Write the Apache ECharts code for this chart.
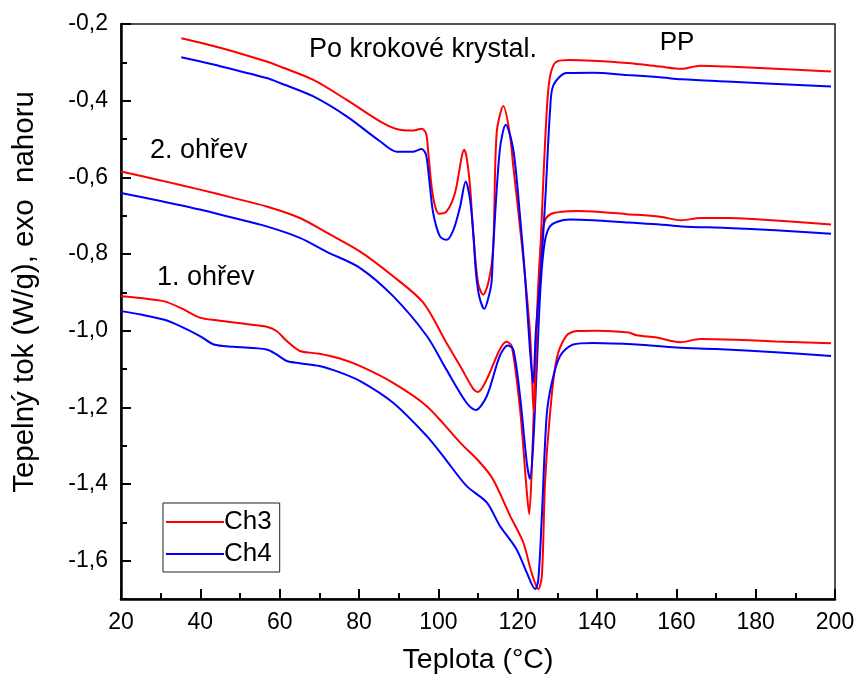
<!DOCTYPE html>
<html>
<head>
<meta charset="utf-8">
<script src="https://cdn.jsdelivr.net/npm/echarts@6/dist/echarts.min.js"></script>
<style>
  html, body { margin: 0; padding: 0; background: #fff; }
  #chart { width: 860px; height: 680px; }
</style>
</head>
<body>
<div id="chart"></div>
<script>
// DSC heating curves of PP, two samples (Ch3, Ch4), temperature in °C vs heat flow in W/g.

// Axis ticks
const xTicks = [20, 40, 60, 80, 100, 120, 140, 160, 180, 200];
const yMajorTicks = [-1.6, -1.4, -1.2, -1.0, -0.8, -0.6, -0.4, -0.2];
const yMinorTicks = [-1.7, -1.5, -1.3, -1.1, -0.9, -0.7, -0.5, -0.3];

// 1st heating
const ch3Heat1 = [
  [20, -0.910], [25, -0.915], [30.7, -0.923], [34.9, -0.940], [39.9, -0.966],
  [44.1, -0.973], [52.5, -0.984], [56.7, -0.990], [59.2, -1.001], [61.8, -1.027],
  [65.1, -1.053], [70, -1.060], [75, -1.072], [80.2, -1.092], [88.6, -1.136],
  [97.1, -1.197], [105.5, -1.292], [110.5, -1.344], [113.8, -1.388], [118.1, -1.483],
  [121.4, -1.552], [123.5, -1.631], [125.2, -1.674], [126.1, -1.640], [126.9, -1.396],
  [128.1, -1.223], [129.8, -1.075], [132.3, -1.013], [134.9, -1.001], [140, -1.000],
  [148, -1.005], [150, -1.012], [155, -1.018], [161, -1.030], [166, -1.022],
  [175, -1.024], [185, -1.028], [199, -1.033]
];
const ch4Heat1 = [
  [20, -0.949], [25, -0.958], [30.7, -0.971], [34.9, -0.988], [39.9, -1.014],
  [43.4, -1.036], [48.4, -1.042], [56.7, -1.049], [59.2, -1.062], [61.8, -1.079],
  [65.1, -1.085], [70, -1.092], [75, -1.108], [80.2, -1.131], [88.6, -1.188],
  [97.1, -1.275], [101.2, -1.327], [107.1, -1.405], [112.2, -1.448], [115.5, -1.509],
  [119.7, -1.570], [122.3, -1.631], [124.4, -1.674], [125.2, -1.650], [126.1, -1.483],
  [127.3, -1.223], [128.6, -1.136], [130.7, -1.066], [134.0, -1.036], [139.0, -1.032],
  [150, -1.036], [160, -1.044], [170, -1.048], [185, -1.056], [199, -1.066]
];

// 2nd heating
const ch3Heat2 = [
  [20, -0.585], [30, -0.608], [39.9, -0.632], [48, -0.653], [56.7, -0.676],
  [65.1, -0.706], [72, -0.745], [80.2, -0.793], [88.6, -0.858], [96.2, -0.927],
  [102.0, -1.031], [105.5, -1.092], [108.8, -1.152], [110.0, -1.160], [112.2, -1.127],
  [115.5, -1.049], [117.2, -1.029], [118.5, -1.040], [120.6, -1.205], [122.3, -1.420],
  [122.9, -1.479], [123.6, -1.350], [124.4, -1.100], [125.2, -0.880], [126.0, -0.760],
  [127, -0.710], [128.5, -0.695], [131, -0.690], [135, -0.688], [139, -0.689],
  [147.6, -0.696], [155.9, -0.703], [161.3, -0.712], [166, -0.706], [172.7, -0.706],
  [181.1, -0.710], [199, -0.723]
];
const ch4Heat2 = [
  [20, -0.641], [30, -0.662], [39.9, -0.684], [48, -0.705], [56.7, -0.728],
  [65.1, -0.758], [72, -0.795], [80.2, -0.836], [88.6, -0.910], [97.1, -1.014],
  [102.0, -1.101], [107.1, -1.188], [109.4, -1.207], [112.2, -1.171], [115.5, -1.066],
  [117.5, -1.039], [118.9, -1.049], [120.6, -1.171], [122.3, -1.344], [123.1, -1.386],
  [123.9, -1.300], [124.8, -1.100], [125.8, -0.880], [126.8, -0.770], [128, -0.730],
  [130, -0.716], [133.2, -0.710], [139, -0.712], [148, -0.718], [155.9, -0.723],
  [161.3, -0.728], [172.7, -0.732], [185, -0.738], [199, -0.747]
];

// Heating after stepwise crystallization
const ch3Step = [
  [35.2, -0.237], [45, -0.262], [56.7, -0.298], [60.1, -0.311], [68.5, -0.346],
  [76.9, -0.398], [85.3, -0.454], [89.5, -0.474], [93.7, -0.478], [95.8, -0.473],
  [96.9, -0.485], [97.4, -0.528], [98.3, -0.624], [99.2, -0.676], [100.2, -0.695],
  [102.1, -0.689], [104.2, -0.641], [105.9, -0.546], [106.5, -0.528], [107.1, -0.546],
  [108.0, -0.624], [108.8, -0.745], [110.0, -0.875], [111.3, -0.906], [112.6, -0.875],
  [113.8, -0.789], [114.7, -0.485], [116.4, -0.414], [118.0, -0.485], [118.9, -0.572],
  [121.2, -0.789], [123.1, -1.005], [124.1, -1.213], [124.8, -1.005], [125.5, -0.850],
  [126.5, -0.600], [127.5, -0.400], [128.3, -0.330], [129.8, -0.298], [133.2, -0.294],
  [139.0, -0.296], [147.6, -0.302], [155.9, -0.311], [161.3, -0.317], [166, -0.309],
  [172.7, -0.311], [181.1, -0.315], [199, -0.324]
];
const ch4Step = [
  [35.2, -0.287], [45, -0.310], [56.7, -0.341], [60.1, -0.354], [68.5, -0.389],
  [76.9, -0.441], [85.3, -0.506], [89.5, -0.533], [93.7, -0.533], [95.8, -0.526],
  [96.9, -0.541], [97.7, -0.606], [98.7, -0.693], [100.4, -0.754], [102.1, -0.763],
  [103.8, -0.737], [105.5, -0.676], [106.9, -0.611], [108.0, -0.658], [108.8, -0.745],
  [109.5, -0.850], [110.3, -0.910], [111.6, -0.943], [112.6, -0.915], [113.4, -0.875],
  [113.8, -0.789], [115.5, -0.528], [117.0, -0.463], [118.9, -0.528], [120.6, -0.702],
  [121.8, -0.850], [123.1, -1.050], [123.9, -1.136], [124.6, -1.000], [125.8, -0.850],
  [127.0, -0.650], [128.2, -0.420], [129.0, -0.360], [132.3, -0.328], [139.0, -0.327],
  [147.6, -0.333], [155.9, -0.339], [161.3, -0.344], [172.7, -0.350], [199, -0.363]
];

const FONT = 'Liberation Sans, Arial, Helvetica, sans-serif';
const RED = '#ff0000';
const BLUE = '#0000ff';

function curve(name, data, color) {
  return {
    name: name,
    type: 'line',
    data: data,
    yAxisIndex: 0,
    showSymbol: false,
    symbol: 'none',
    smooth: 0.3,
    lineStyle: { color: color, width: 2 },
    itemStyle: { color: color },
    silent: true,
    animation: false
  };
}

const chart = echarts.init(document.getElementById('chart'), null, { renderer: 'canvas' });

chart.setOption({
  backgroundColor: '#ffffff',
  animation: false,
  textStyle: { fontFamily: FONT },
  grid: {
    left: 121, right: 25, top: 24, bottom: 80,
    show: true, borderColor: '#1a1a1a', borderWidth: 1.5, backgroundColor: 'transparent'
  },
  legend: {
    data: ['Ch3', 'Ch4'],
    orient: 'vertical',
    left: 163, top: 503,
    padding: [6, 8, 5, 3],
    itemGap: 6,
    itemWidth: 58,
    itemHeight: 2,
    icon: 'rect',
    borderColor: '#222',
    borderWidth: 1,
    backgroundColor: '#fff',
    textStyle: { fontFamily: FONT, fontSize: 26, color: '#000', lineHeight: 26, padding: [0, 0, 0, -5] },
    selectedMode: false
  },
  xAxis: {
    type: 'value',
    min: 20, max: 200, interval: 20,
    name: 'Teplota (°C)',
    nameLocation: 'middle',
    nameGap: 47,
    nameTextStyle: { fontFamily: FONT, fontSize: 28.5, color: '#000' },
    axisLine: { show: true, onZero: false, lineStyle: { color: '#000', width: 2.5 } },
    axisTick: { show: true, inside: true, length: 10, lineStyle: { color: '#000', width: 2 } },
    minorTick: { show: true, splitNumber: 2, length: 6, lineStyle: { color: '#000', width: 2 } },
    axisLabel: { fontFamily: FONT, fontSize: 23, color: '#000', margin: 12, customValues: xTicks },
    splitLine: { show: false }
  },
  yAxis: [
    {
      type: 'value',
      min: -1.7, max: -0.2,
      position: 'left',
      offset: 0,
      axisLine: { show: true, onZero: false, lineStyle: { color: '#000', width: 2.5 } },
      axisTick: { show: true, inside: true, length: 10, customValues: yMajorTicks, lineStyle: { color: '#000', width: 2 } },
      axisLabel: {
        fontFamily: FONT, fontSize: 23, color: '#000', margin: 13,
        customValues: yMajorTicks,
        formatter: function (v) { return v.toFixed(1).replace('.', ','); }
      },
      splitLine: { show: false }
    },
    {
      type: 'value',
      min: -1.7, max: -0.2,
      position: 'left',
      offset: 0,
      axisLine: { show: false },
      axisTick: { show: true, inside: true, length: 6, customValues: yMinorTicks, lineStyle: { color: '#000', width: 2 } },
      axisLabel: { show: false },
      splitLine: { show: false }
    }
  ],
  series: [
    curve('Ch3', ch3Heat1, RED),
    curve('Ch4', ch4Heat1, BLUE),
    curve('Ch3', ch3Heat2, RED),
    curve('Ch4', ch4Heat2, BLUE),
    curve('Ch3', ch3Step, RED),
    curve('Ch4', ch4Step, BLUE)
  ],
  graphic: [
    {
      type: 'text', x: 25, y: 292, rotation: Math.PI / 2,
      style: { text: 'Tepelný tok (W/g), exo  nahoru', fontFamily: FONT, fontSize: 29.5, fill: '#000', textAlign: 'center', textVerticalAlign: 'middle' }
    },
    {
      type: 'text', x: 309, y: 50,
      style: { text: 'Po krokové krystal.', fontFamily: FONT, fontSize: 27, fill: '#000', textAlign: 'left', textVerticalAlign: 'middle' }
    },
    {
      type: 'text', x: 677, y: 43,
      style: { text: 'PP', fontFamily: FONT, fontSize: 26, fill: '#000', textAlign: 'center', textVerticalAlign: 'middle' }
    },
    {
      type: 'text', x: 150, y: 151,
      style: { text: '2. ohřev', fontFamily: FONT, fontSize: 27, fill: '#000', textAlign: 'left', textVerticalAlign: 'middle' }
    },
    {
      type: 'text', x: 157, y: 278,
      style: { text: '1. ohřev', fontFamily: FONT, fontSize: 27, fill: '#000', textAlign: 'left', textVerticalAlign: 'middle' }
    }
  ]
});
</script>
</body>
</html>
